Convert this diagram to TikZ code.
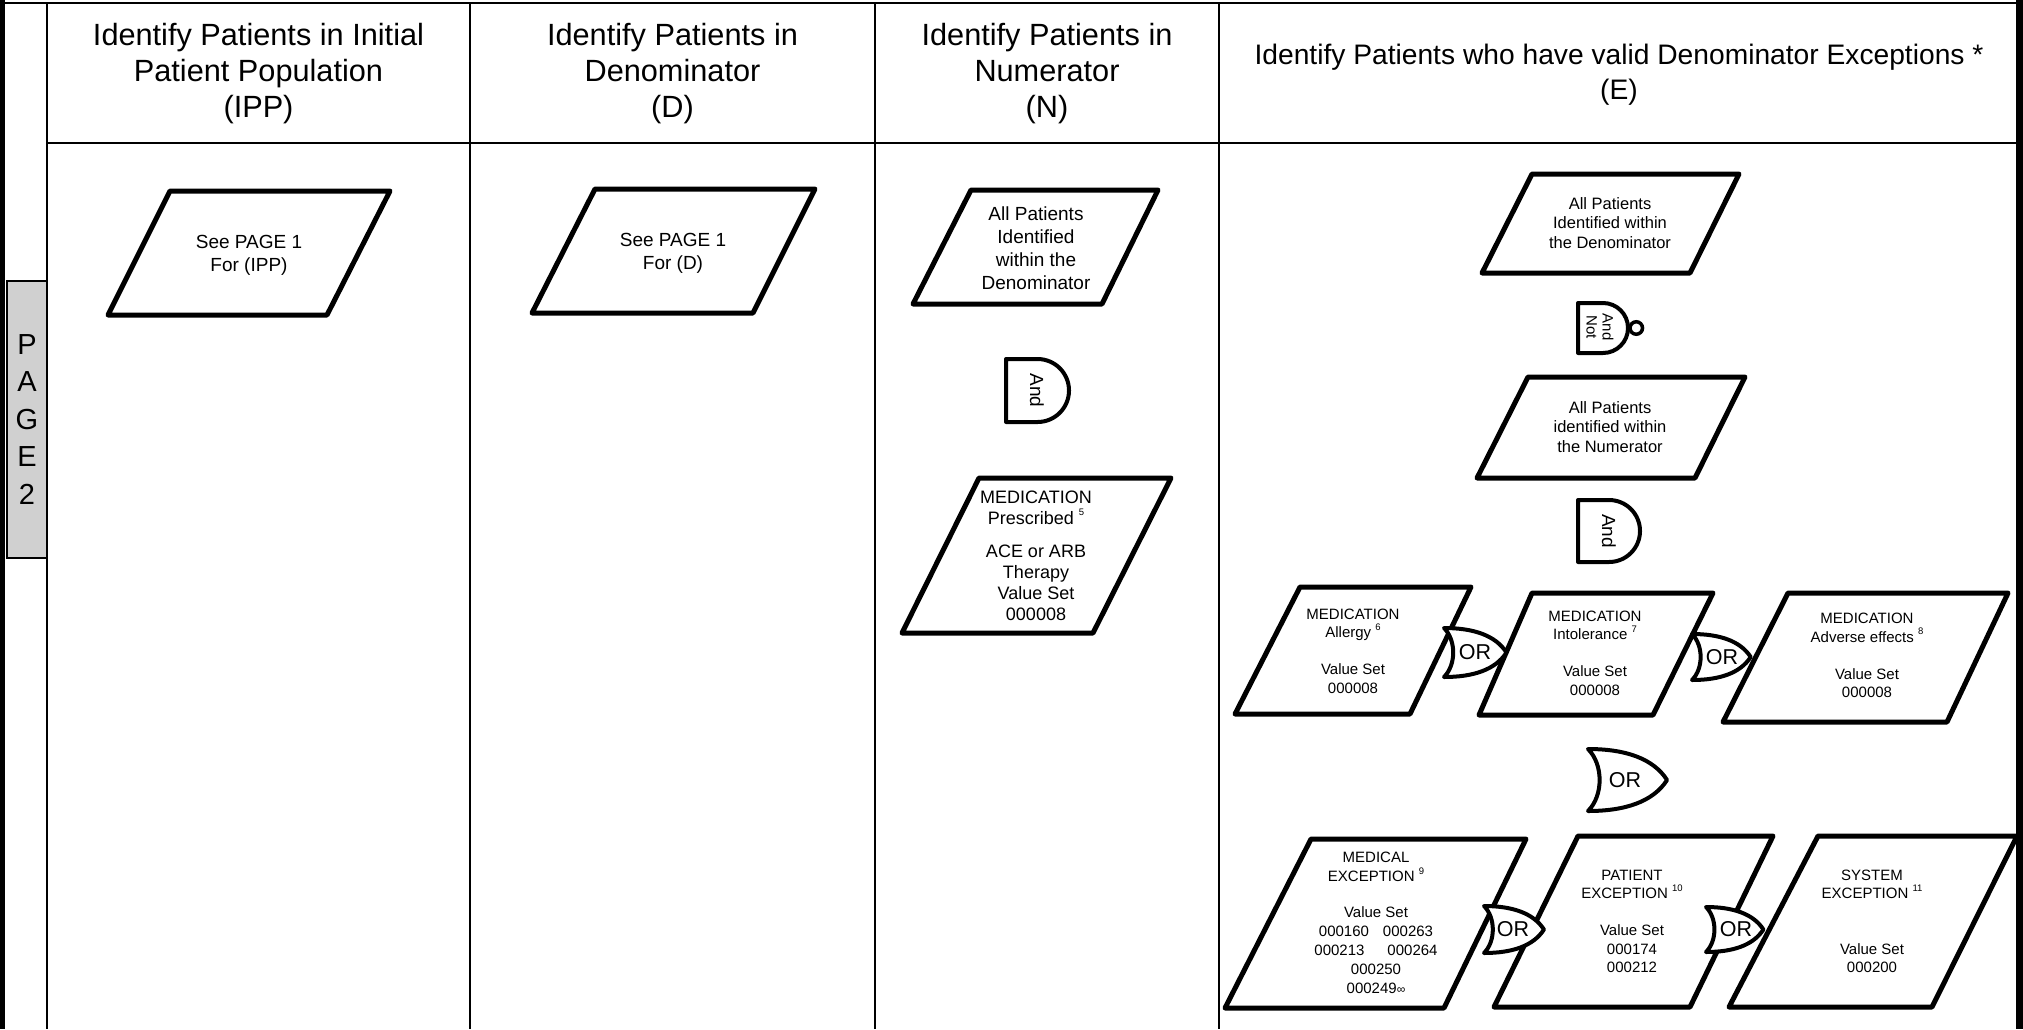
\documentclass[tikz,border=0pt]{standalone}
\usepackage{fontspec}
\setmainfont{Liberation Sans}
\newcommand\fnref[1]{\raisebox{0.5em}{\fontsize{9.5}{9.5}\selectfont #1}}
\definecolor{pagegray}{RGB}{208,208,208}
\begin{document}
\begin{tikzpicture}[x=1pt,y=-1pt,
  frame/.style={line width=2pt},
  para/.style={line width=5pt,line join=round,fill=white},
  gate/.style={line width=4pt,line join=round,fill=white},
  txt/.style={align=center,inner sep=0pt},
  hdr/.style={txt,font=\fontsize{30.7}{36}\selectfont},
  hdrE/.style={txt,font=\fontsize{28.2}{35}\selectfont},
  tA/.style={txt,font=\fontsize{19}{23}\selectfont},
  tB/.style={txt,font=\fontsize{18}{21}\selectfont},
  tC/.style={txt,font=\fontsize{16.5}{19.8}\selectfont},
  tD/.style={txt,font=\fontsize{15}{18.5}\selectfont},
  tE/.style={txt,font=\fontsize{15}{19}\selectfont},
  andtxt/.style={txt,rotate=-90,font=\fontsize{19}{19}\selectfont},
  nottxt/.style={txt,rotate=-90,font=\fontsize{15}{16}\selectfont},
  ortxt/.style={txt,font=\fontsize{21.5}{21.5}\selectfont},
  andgate/.pic={\draw[gate] (0,-1) -- (1,-1) .. controls (1.5523,-1) and (2,-0.5523) .. (2,0) .. controls (2,0.5523) and (1.5523,1) .. (1,1) -- (0,1) -- cycle;},
  notgate/.pic={\draw[gate] (0,-1) -- (1,-1) .. controls (1.5523,-1) and (2,-0.5523) .. (2,0) .. controls (2,0.5523) and (1.5523,1) .. (1,1) -- (0,1) -- cycle;
     \draw[line width=3.5pt,fill=white] (2.33,0) circle[radius=0.25];},
  orgate/.pic={\draw[gate] (0,-1) .. controls (1.2,-1) and (2.1,-0.7) .. (2.55,0) .. controls (2.1,0.7) and (1.2,1) .. (0,1) .. controls (0.5,0.5) and (0.5,-0.5) .. (0,-1) -- cycle;}
]
\useasboundingbox (0,0) rectangle (2023,1029);
\fill[white] (0,0) rectangle (2023,1029);

% frame
\draw[frame] (0,3) -- (2023,3);
\draw[frame] (47,3) -- (47,1029);
\draw[frame] (470,3) -- (470,1029);
\draw[frame] (875,3) -- (875,1029);
\draw[frame] (1219,3) -- (1219,1029);
\draw[frame] (47,143) -- (2019,143);
\draw[line width=5pt] (2.5,0) -- (2.5,1029);

\node[draw,line width=1.5pt,fill=pagegray,minimum width=40pt,minimum height=277pt,inner sep=0pt,align=center,font=\fontsize{29}{37.5}\selectfont] (page) at (27,419.5) {P\\A\\G\\E\\2};

% headers
\node[hdr] (h1) at (258.5,74) {Identify Patients in Initial\\Patient Population\\(IPP)};
\node[hdr] (h2) at (672.5,74) {Identify Patients in\\Denominator\\(D)};
\node[hdr] (h3) at (1047,74) {Identify Patients in\\Numerator\\(N)};
\node[hdrE] (h4) at (1619,75) {Identify Patients who have valid Denominator Exceptions *\\(E)};

% column 1 and 2
\draw[para] (170,191) -- (390,191) -- (327,315) -- (108,315) -- cycle;
\node[tA] (ipp) at (249,255) {See PAGE 1\\For (IPP)};
\draw[para] (595,189) -- (815,189) -- (753,313) -- (532,313) -- cycle;
\node[tA] (den) at (673,253) {See PAGE 1\\For (D)};

% column 3
\draw[para] (971,190) -- (1158,190) -- (1102,304) -- (913,304) -- cycle;
\node[tA] (nden) at (1036,248) {All Patients\\Identified\\within the\\Denominator};
\pic[scale=31.5] at (1006,390.5) {andgate};
\node[andtxt] (nand) at (1037,390.5) {And};
\draw[para] (979,478) -- (1171,478) -- (1093,633) -- (902,633) -- cycle;
\node[tB] (nmed) at (1036,556) {MEDICATION\\Prescribed \fnref{5}\\[12pt]ACE or ARB\\Therapy\\Value Set\\000008};

% column 4
\draw[para] (1532,174) -- (1739,174) -- (1690,273) -- (1482,273) -- cycle;
\node[tC] (eden) at (1610,223) {All Patients\\Identified within\\the Denominator};
\pic[scale=25] at (1578,328) {notgate};
\node[nottxt] (eandnot) at (1600,327) {And\\Not};
\draw[para] (1528,377) -- (1745,377) -- (1695,478) -- (1477,478) -- cycle;
\node[tC] (enum) at (1610,427) {All Patients\\identified within\\the Numerator};
\pic[scale=31] at (1578,531) {andgate};
\node[andtxt] (eand) at (1609,531) {And};

\draw[para] (1300,587) -- (1471,587) -- (1410,714) -- (1235,714) -- cycle;
\node[tD] (allergy) at (1353,651) {MEDICATION\\Allergy \fnref{6}\\[18.5pt]Value Set\\000008};
\draw[para] (1532,593) -- (1713,593) -- (1653,715) -- (1479,715) -- cycle;
\node[tD] (intol) at (1595,653) {MEDICATION\\Intolerance \fnref{7}\\[18.5pt]Value Set\\000008};
\draw[para] (1788,593) -- (2008,593) -- (1947,722) -- (1723,722) -- cycle;
\node[tD] (adverse) at (1867,655.5) {MEDICATION\\Adverse effects \fnref{8}\\[18.5pt]Value Set\\000008};
\pic[scale=24.5] at (1444,652.5) {orgate};
\node[ortxt] (or1) at (1475,652.5) {OR};
\pic[scale=23] at (1692,657) {orgate};
\node[ortxt] (or2) at (1722,657) {OR};
\pic[scale=31] at (1588,780) {orgate};
\node[ortxt] (or3) at (1625,780) {OR};

\draw[para] (1311,839) -- (1526,839) -- (1444,1008) -- (1225,1008) -- cycle;
\node[tE] (medical) at (1376,923) {MEDICAL\\EXCEPTION \fnref{9}\\[17pt]Value Set\\000160\hspace{14pt}000263\\000213\hspace{23pt}000264\\000250\\000249{\fontsize{12}{12}\selectfont ∞}};
\draw[para] (1578,836) -- (1773,836) -- (1690,1007) -- (1494,1007) -- cycle;
\node[tD] (patient) at (1632,921.5) {PATIENT\\EXCEPTION \fnref{10}\\[18.5pt]Value Set\\000174\\000212};
\draw[para] (1818,836) -- (2017,836) -- (1932,1007) -- (1729,1007) -- cycle;
\node[tD] (system) at (1872,921.5) {SYSTEM\\EXCEPTION \fnref{11}\\[37pt]Value Set\\000200};
\pic[scale=23.5] at (1484,929.5) {orgate};
\node[ortxt] (or4) at (1513,929.5) {OR};
\pic[scale=22.5] at (1706,929.5) {orgate};
\node[ortxt] (or5) at (1736,929.5) {OR};

\draw[line width=7pt] (2019.5,0) -- (2019.5,1029);
\end{tikzpicture}
\end{document}
